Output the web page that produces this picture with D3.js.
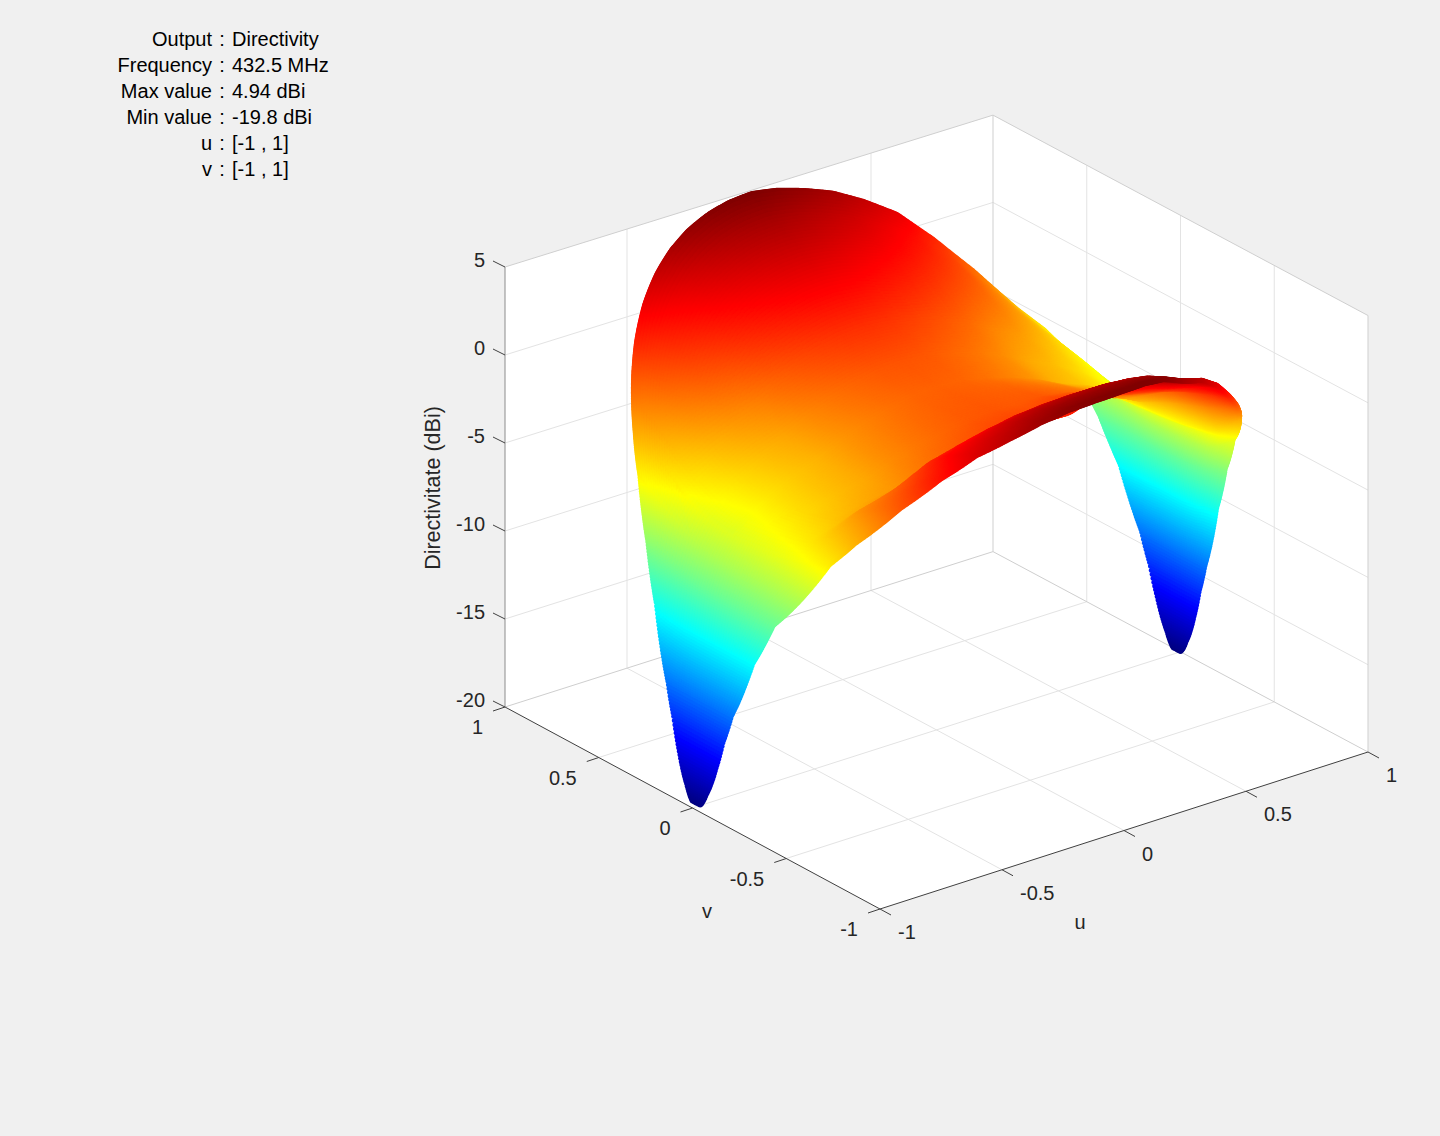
<!DOCTYPE html>
<html>
<head>
<meta charset="utf-8">
<script src="https://cdn.jsdelivr.net/npm/d3@7"></script>
<style>
body { margin: 0; background: #f0f0f0; }
#chart { position: relative; width: 1440px; height: 1136px; overflow: hidden; }
#chart svg, #chart canvas { position: absolute; left: 0; top: 0; }
text { font-family: "Liberation Sans", Arimo, sans-serif; }
</style>
</head>
<body>
<div id="chart"></div>
<script>
// info block
var infoNames = ["Output", "Frequency", "Max value", "Min value", "u", "v"];
var infoValues = ["Directivity", "432.5 MHz", "4.94 dBi", "-19.8 dBi", "[-1 , 1]", "[-1 , 1]"];

// ticks
var uTicks = [-1, -0.5, 0, 0.5, 1];
var vTicks = [-1, -0.5, 0, 0.5, 1];
var zTicks = [-20, -15, -10, -5, 0, 5];

// directivity in dBi, one table per quarter of the disk
// rows: |u|, columns: how far from v=0 to the rim of the disk
var uLevels = [0, 0.1, 0.2, 0.3, 0.4, 0.5, 0.6, 0.7, 0.8, 0.85, 0.9, 0.94, 0.965];
var tipLevels = [0.985, 0.991, 0.995, 0.9986, 0.9998];
var tipValues = [-13.9, -15.6, -17.3, -19.0, -19.8];

var backLevels = [0, 0.2, 0.4, 0.6, 0.8, 0.9, 1];
var frontLevels = [0, 0.3, 0.5, 0.6, 0.7, 0.8, 0.9, 1];

// u<0, v>0
var backLeft = [
    [-0.50, -0.17, 0.70, 2.06, 3.42, 4.07, 4.94],
    [-0.60, -0.27, 0.61, 1.98, 3.35, 4.00, 4.88],
    [-0.90, -0.57, 0.33, 1.72, 3.12, 3.79, 4.68],
    [-1.30, -0.96, -0.06, 1.36, 2.77, 3.45, 4.35],
    [-1.80, -1.46, -0.55, 0.86, 2.28, 2.95, 3.86],
    [-2.50, -2.16, -1.25, 0.17, 1.59, 2.27, 3.18],
    [-3.00, -2.68, -1.84, -0.52, 0.79, 1.43, 2.27],
    [-3.70, -3.42, -2.67, -1.49, -0.32, 0.25, 1.00],
    [-4.60, -4.37, -3.76, -2.81, -1.86, -1.41, -0.80],
    [-5.20, -5.02, -4.52, -3.76, -2.99, -2.62, -2.13],
    [-6.30, -6.16, -5.79, -5.20, -4.62, -4.33, -3.96],
    [-8.00, -7.94, -7.78, -7.53, -7.28, -7.16, -7.00],
    [-10.5, -10.5, -10.5, -10.4, -10.3, -10.2, -10.0]
];
// u>0, v>0
var backRight = [
    [-0.50, -0.17, 0.70, 2.06, 3.42, 4.07, 4.94],
    [-0.60, -0.27, 0.59, 1.92, 3.24, 3.87, 4.73],
    [-0.90, -0.58, 0.29, 1.60, 2.91, 3.53, 4.38],
    [-1.30, -0.97, -0.12, 1.20, 2.49, 3.11, 3.95],
    [-1.80, -1.48, -0.64, 0.62, 1.86, 2.44, 3.26],
    [-2.50, -2.18, -1.37, -0.15, 1.03, 1.59, 2.38],
    [-3.00, -2.71, -2.00, -1.00, -0.08, 0.35, 0.90],
    [-3.70, -3.47, -2.91, -2.20, -1.60, -1.30, -0.85],
    [-4.60, -4.43, -4.08, -3.65, -3.33, -3.20, -2.90],
    [-5.20, -5.08, -4.82, -4.50, -4.25, -4.05, -3.80],
    [-6.30, -6.23, -6.00, -5.80, -5.60, -5.40, -5.20],
    [-8.00, -7.97, -7.93, -7.93, -7.98, -8.01, -8.00],
    [-10.5, -10.5, -10.6, -10.6, -10.65, -10.6, -10.5]
];
// u<0, v<0
var frontLeft = [
    [-0.50, -0.23, 0.32, 1.13, 2.87, 3.74, 4.40, 4.94],
    [-0.60, -0.33, 0.22, 1.04, 2.78, 3.65, 4.31, 4.85],
    [-0.90, -0.62, -0.07, 0.77, 2.54, 3.43, 4.10, 4.65],
    [-1.30, -1.03, -0.48, 0.35, 2.11, 2.99, 3.65, 4.20],
    [-1.80, -1.54, -1.01, -0.21, 1.49, 2.33, 2.97, 3.50],
    [-2.50, -2.24, -1.72, -0.94, 0.72, 1.56, 2.18, 2.70],
    [-3.00, -2.75, -2.25, -1.70, -0.60, 0.10, 0.80, 1.40],
    [-3.70, -3.40, -2.95, -2.60, -1.70, -1.20, -0.75, -0.30],
    [-4.60, -4.30, -4.00, -3.80, -3.50, -3.20, -2.85, -2.50],
    [-5.20, -5.00, -4.80, -4.65, -4.50, -4.30, -4.10, -3.90],
    [-6.30, -6.30, -6.28, -6.27, -6.24, -6.22, -6.21, -6.20],
    [-8.00, -8.00, -8.00, -8.00, -8.00, -8.00, -8.00, -8.00],
    [-10.5, -10.5, -10.5, -10.5, -10.5, -10.5, -10.5, -10.5]
];
// u>0, v<0
var frontRight = [
    [-0.50, -0.23, 0.32, 1.13, 2.87, 3.74, 4.40, 4.94],
    [-0.60, -0.32, 0.23, 1.06, 2.83, 3.72, 4.39, 4.94],
    [-0.90, -0.30, 0.60, 1.50, 2.60, 3.50, 4.20, 4.70],
    [-1.30, -0.60, 0.50, 1.30, 2.10, 2.90, 3.50, 4.00],
    [-1.80, -1.00, 0.10, 0.80, 1.50, 2.10, 2.80, 3.40],
    [-2.50, -1.60, -0.40, 0.20, 0.80, 1.40, 1.95, 2.40],
    [-3.00, -2.20, -1.00, -0.40, 0.00, 0.35, 0.70, 1.00],
    [-3.70, -3.00, -2.20, -1.90, -1.60, -1.30, -0.90, -0.50],
    [-4.60, -4.40, -4.20, -4.00, -3.80, -3.50, -2.90, -2.20],
    [-5.20, -5.00, -4.80, -4.70, -4.60, -4.40, -4.00, -3.50],
    [-6.30, -6.20, -6.10, -6.00, -5.90, -5.60, -5.20, -4.80],
    [-8.00, -7.95, -7.90, -7.80, -7.70, -7.50, -7.30, -7.20],
    [-10.5, -10.5, -10.4, -10.35, -10.2, -10.1, -10.05, -10.0]
];

var originX = 880, originY = 909;
var uX = d3.scaleLinear().domain([-1, 1]).range([0, 488]);
var uY = d3.scaleLinear().domain([-1, 1]).range([0, -157]);
var vX = d3.scaleLinear().domain([-1, 1]).range([0, -375]);
var vY = d3.scaleLinear().domain([-1, 1]).range([0, -202]);
var zY = d3.scaleLinear().domain([-20, 5]).range([0, -440]);
// the camera is not quite orthographic, things get a little flatter towards u=1
var squeeze = d3.scaleLinear().domain([-1, 1]).range([1, 0.992]);
// the outermost markers stop a little short of the unit circle
var diskRadius = 0.985;

var jet = d3.scaleLinear()
    .domain([0, 0.125, 0.375, 0.625, 0.875, 1].map(function(d){ return -19.8 + d * 24.74; }))
    .range(["#000080", "#0000ff", "#00ffff", "#ffff00", "#ff0000", "#800000"])
    .clamp(true);

function px(u, v){ return originX + uX(u) + vX(v); }
function py(u, v, z){ return originY + uY(u) + (vY(v) + zY(z)) * squeeze(u); }
function pt(u, v, z){ return [px(u, v), py(u, v, z)]; }

var allLevels = uLevels.concat(tipLevels);
function withTip(table, levels){
    return table.concat(tipValues.map(function(z){ return levels.map(function(){ return z; }); }));
}
var quarters = {
    backLeft: { levels: backLevels, rows: withTip(backLeft, backLevels) },
    backRight: { levels: backLevels, rows: withTip(backRight, backLevels) },
    frontLeft: { levels: frontLevels, rows: withTip(frontLeft, frontLevels) },
    frontRight: { levels: frontLevels, rows: withTip(frontRight, frontLevels) }
};

// shading inside a table cell
function lookup(u, v, at){
    var q = quarters[(v >= 0 ? "back" : "front") + (u < 0 ? "Left" : "Right")];
    var au = Math.abs(u);
    var i = Math.max(0, Math.min(allLevels.length - 2, d3.bisectRight(allLevels, au) - 1));
    var j = Math.max(0, Math.min(q.levels.length - 2, d3.bisectRight(q.levels, at) - 1));
    var fu = Math.min(1, (au - allLevels[i]) / (allLevels[i + 1] - allLevels[i]));
    var ft = (at - q.levels[j]) / (q.levels[j + 1] - q.levels[j]);
    var a = q.rows[i][j] * (1 - ft) + q.rows[i][j + 1] * ft;
    var b = q.rows[i + 1][j] * (1 - ft) + q.rows[i + 1][j + 1] * ft;
    return a * (1 - fu) + b * fu;
}

var chart = d3.select("#chart");
var svg = chart.append("svg").attr("width", 1440).attr("height", 1136);

function line(g, a, b, color, width){
    g.append("line").attr("x1", a[0]).attr("y1", a[1]).attr("x2", b[0]).attr("y2", b[1])
        .attr("stroke", color).attr("stroke-width", width);
}
function plane(points){
    svg.append("polygon").attr("points", points.join(" ")).attr("fill", "#fff");
}

// the three back panes
plane([pt(-1, -1, -20), pt(1, -1, -20), pt(1, 1, -20), pt(-1, 1, -20)]);
plane([pt(-1, 1, -20), pt(1, 1, -20), pt(1, 1, 5), pt(-1, 1, 5)]);
plane([pt(1, 1, -20), pt(1, -1, -20), pt(1, -1, 5), pt(1, 1, 5)]);

// grid
var grid = svg.append("g");
var gridColor = "#e3e3e3";
uTicks.slice(1, -1).forEach(function(t){
    line(grid, pt(t, -1, -20), pt(t, 1, -20), gridColor, 1);
    line(grid, pt(t, 1, -20), pt(t, 1, 5), gridColor, 1);
});
vTicks.slice(1, -1).forEach(function(t){
    line(grid, pt(-1, t, -20), pt(1, t, -20), gridColor, 1);
    line(grid, pt(1, t, -20), pt(1, t, 5), gridColor, 1);
});
zTicks.slice(1, -1).forEach(function(t){
    line(grid, pt(-1, 1, t), pt(1, 1, t), gridColor, 1);
    line(grid, pt(1, 1, t), pt(1, -1, t), gridColor, 1);
});

// box edges
var edgeColor = "#cfcfcf";
line(grid, pt(-1, 1, -20), pt(1, 1, -20), edgeColor, 1);
line(grid, pt(1, 1, -20), pt(1, -1, -20), edgeColor, 1);
line(grid, pt(1, 1, -20), pt(1, 1, 5), edgeColor, 1);
line(grid, pt(-1, 1, 5), pt(1, 1, 5), edgeColor, 1);
line(grid, pt(1, 1, 5), pt(1, -1, 5), edgeColor, 1);
line(grid, pt(1, -1, -20), pt(1, -1, 5), edgeColor, 1);

// axes
var axes = svg.append("g");
var dark = "#404040";
line(axes, pt(-1, -1, -20), pt(1, -1, -20), dark, 1);
line(axes, pt(-1, -1, -20), pt(-1, 1, -20), dark, 1);
line(axes, pt(-1, 1, -20), pt(-1, 1, 5), "#8c8c8c", 1);

var tickFont = 20;
function label(x, y, txt, anchor, size, color){
    return svg.append("text").attr("x", x).attr("y", y).attr("text-anchor", anchor)
        .attr("dominant-baseline", "central").attr("font-size", size).attr("fill", color).text(txt);
}
uTicks.forEach(function(t){
    var p = pt(t, -1, -20);
    line(axes, p, [p[0] + 11, p[1] + 6], dark, 1);
    label(p[0] + 18, p[1] + 23, t, "start", tickFont, "#262626");
});
vTicks.forEach(function(t){
    var p = pt(-1, t, -20);
    line(axes, p, [p[0] - 12, p[1] + 4], dark, 1);
    label(p[0] - 22, p[1] + 20, t, "end", tickFont, "#262626");
});
zTicks.forEach(function(t){
    var p = pt(-1, 1, t);
    line(axes, p, [p[0] - 12, p[1] - 6], dark, 1);
    label(p[0] - 20, p[1] - 7, t, "end", tickFont, "#262626");
});
label(1080, 922, "u", "middle", 20, "#262626");
label(707, 911, "v", "middle", 20, "#262626");
label(0, 0, "Directivitate (dBi)", "middle", 21.5, "#262626")
    .attr("transform", "translate(433,488) rotate(-90)");

// info text
infoNames.forEach(function(d, i){
    var y = 38.5 + i * 26;
    label(212, y, d, "end", 20, "#000");
    label(222, y, ":", "middle", 20, "#000");
    label(232, y, infoValues[i], "start", 20, "#000");
});

// surface, scatter of markers painted back to front
var canvas = chart.append("canvas").attr("width", 1440).attr("height", 1136);
var ctx = canvas.node().getContext("2d");
var points = [];
var thetaStart = Math.acos(tipLevels[tipLevels.length - 1]);
d3.range(thetaStart, Math.PI - thetaStart, 0.004).forEach(function(theta){
    var u = Math.cos(theta), s = Math.sin(theta);
    var n = Math.ceil(s * 70) + 1;
    d3.range(-n, n + 1).forEach(function(k){
        var t = k / n;
        var v = t * s;
        var z = lookup(u, v, Math.abs(t));
        var du = u * diskRadius, dv = v * diskRadius;
        points.push({
            x: px(du, dv), y: py(du, dv, z), c: jet(z),
            depth: -0.54 * du - 0.70 * dv + 0.52 * z / 12.5
        });
    });
});
points.sort(function(a, b){ return d3.ascending(a.depth, b.depth); });
points.forEach(function(d){
    ctx.fillStyle = d.c;
    ctx.beginPath();
    ctx.arc(d.x, d.y, 2.5, 0, 2 * Math.PI);
    ctx.fill();
});
</script>
</body>
</html>
